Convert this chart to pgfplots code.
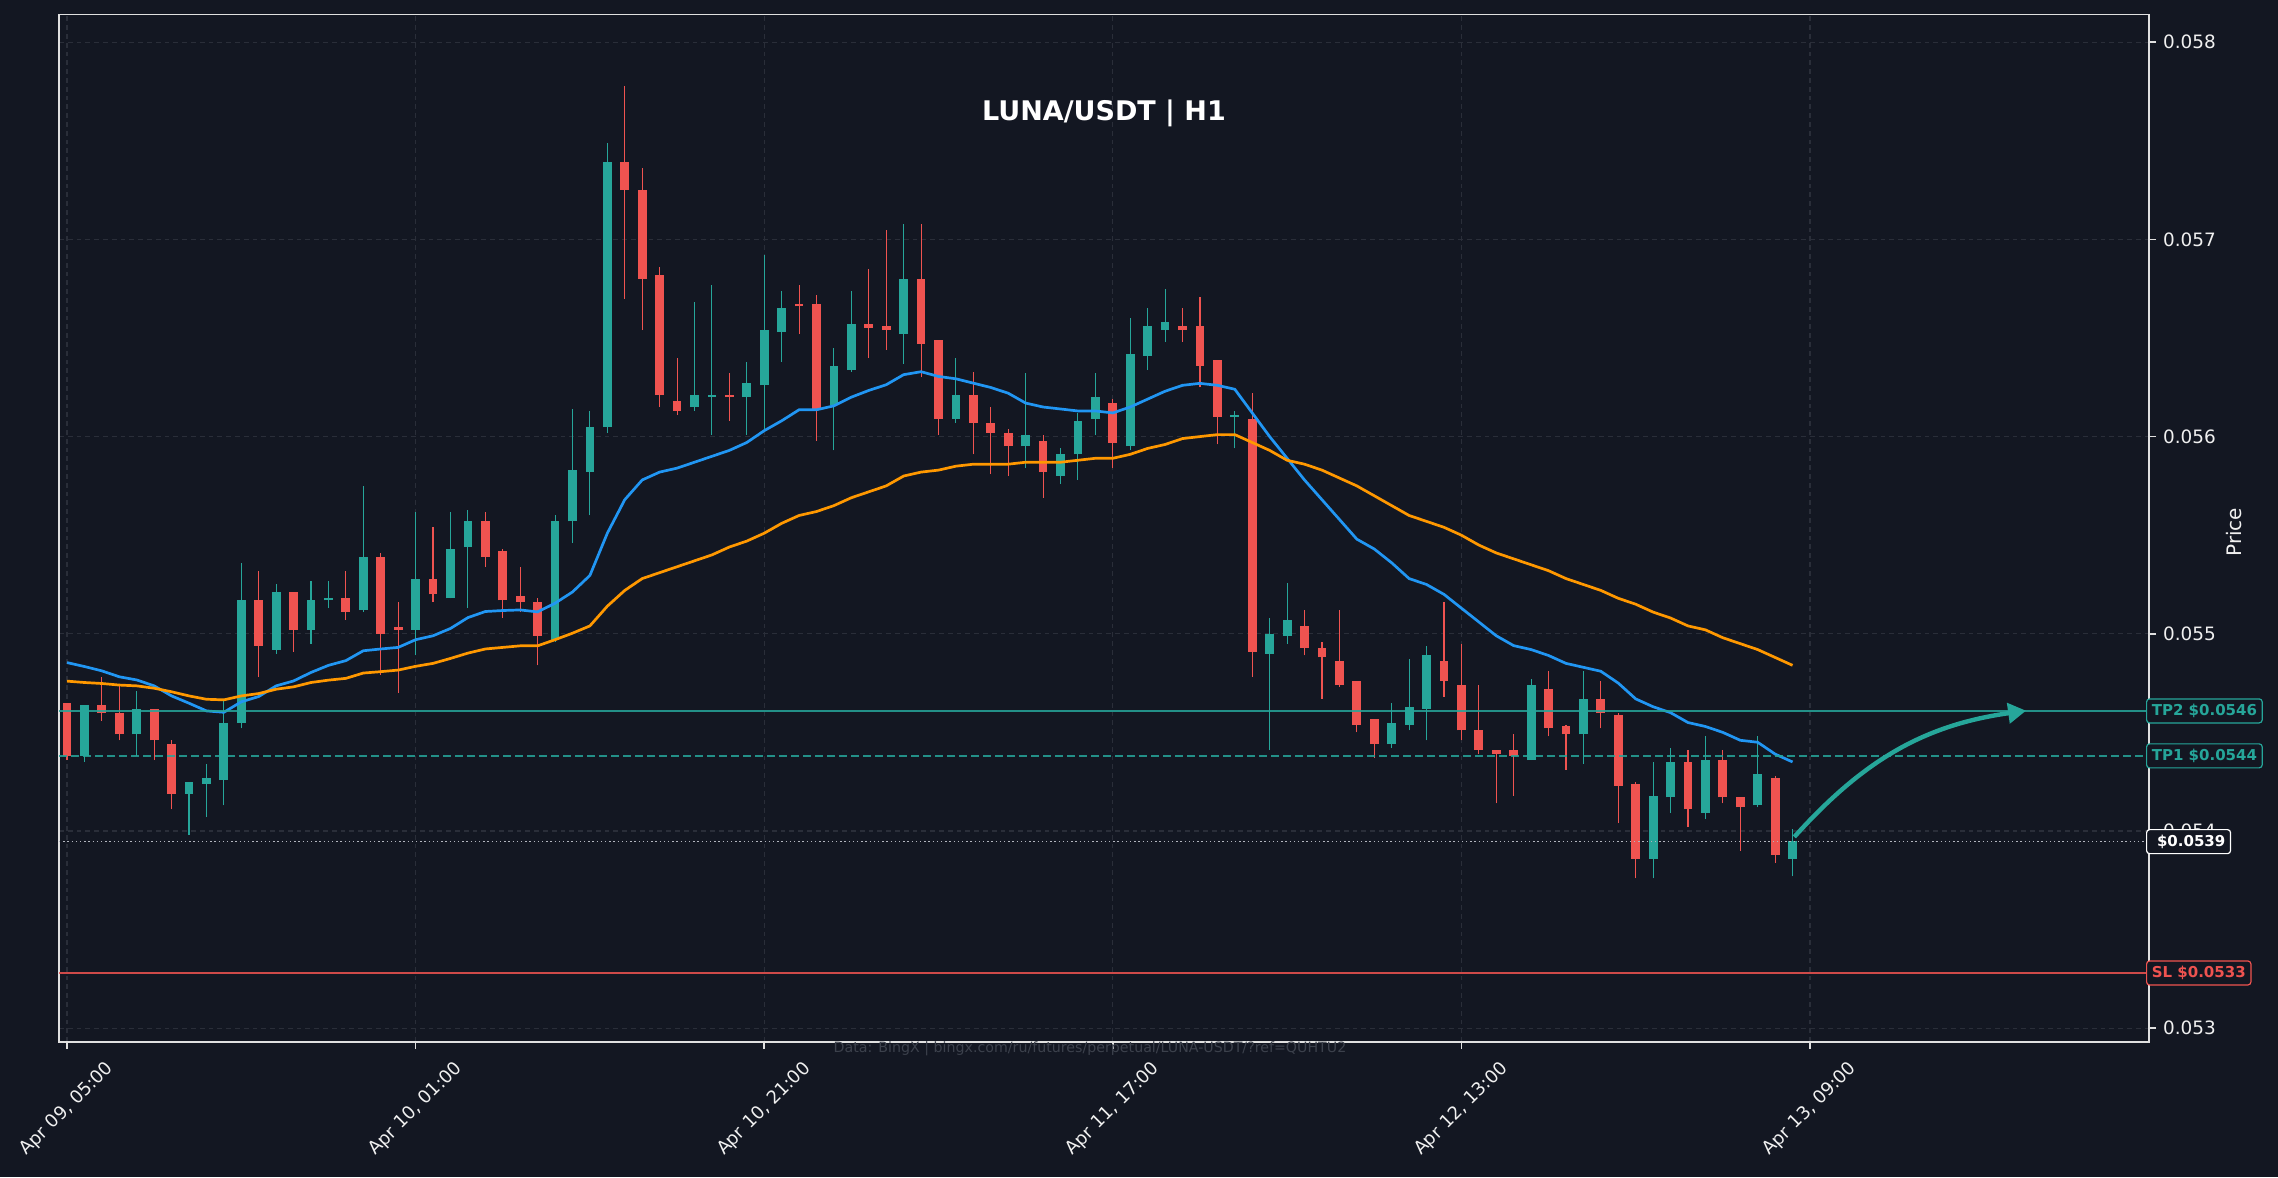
\documentclass[border=0pt]{standalone}
\usepackage{pgfplots}
\pgfplotsset{compat=1.18}
\usepackage{pgfplotstable}
\usepackage{fontspec}
\setmainfont{DejaVu Sans}
\usetikzlibrary{arrows.meta}
\definecolor{bg}{HTML}{131722}
\definecolor{gridc}{HTML}{2A2E39}
\definecolor{spine}{HTML}{E0E0E0}
\definecolor{txt}{HTML}{F0F0F0}
\definecolor{up}{HTML}{26A69A}
\definecolor{down}{HTML}{EF5350}
\definecolor{emafast}{HTML}{2196F3}
\definecolor{emaslow}{HTML}{FF9800}
\definecolor{wm}{HTML}{3C414C}
\definecolor{cur}{HTML}{B2B5BE}

\pgfplotstableread{
i O H L C
1 0.05438 0.05464 0.05435 0.05464
4 0.05449 0.05471 0.05438 0.05462
7 0.05419 0.05425 0.05398 0.05425
8 0.05424 0.05434 0.05407 0.05427
9 0.05426 0.05466 0.05413 0.05455
10 0.05455 0.05536 0.05452 0.05517
12 0.05492 0.05525 0.05490 0.05521
14 0.05502 0.05527 0.05495 0.05517
15 0.05517 0.05527 0.05513 0.05518
17 0.05512 0.05575 0.05511 0.05539
20 0.05502 0.05562 0.05489 0.05528
22 0.05518 0.05562 0.05518 0.05543
23 0.05544 0.05563 0.05513 0.05557
28 0.05497 0.05560 0.05496 0.05557
29 0.05557 0.05614 0.05546 0.05583
30 0.05582 0.05613 0.05560 0.05605
31 0.05605 0.05749 0.05602 0.05739
36 0.05615 0.05668 0.05613 0.05621
37 0.05620 0.05677 0.05601 0.05621
39 0.05620 0.05638 0.05601 0.05627
40 0.05626 0.05692 0.05603 0.05654
41 0.05653 0.05674 0.05638 0.05665
44 0.05616 0.05645 0.05593 0.05636
45 0.05634 0.05674 0.05633 0.05657
48 0.05652 0.05708 0.05637 0.05680
51 0.05609 0.05640 0.05607 0.05621
55 0.05595 0.05632 0.05584 0.05601
57 0.05580 0.05594 0.05576 0.05591
58 0.05591 0.05612 0.05578 0.05608
59 0.05609 0.05632 0.05601 0.05620
61 0.05595 0.05660 0.05593 0.05642
62 0.05641 0.05665 0.05634 0.05656
63 0.05654 0.05675 0.05648 0.05658
67 0.05610 0.05613 0.05594 0.05611
69 0.05490 0.05508 0.05441 0.05500
70 0.05499 0.05526 0.05495 0.05507
76 0.05444 0.05465 0.05442 0.05455
77 0.05454 0.05487 0.05451 0.05463
78 0.05462 0.05494 0.05446 0.05489
84 0.05436 0.05477 0.05436 0.05474
87 0.05449 0.05481 0.05434 0.05467
91 0.05386 0.05435 0.05376 0.05418
92 0.05417 0.05442 0.05409 0.05435
94 0.05409 0.05448 0.05406 0.05436
97 0.05413 0.05448 0.05412 0.05429
99 0.05386 0.05401 0.05377 0.05395
}\upc

\pgfplotstableread{
i O H L C
0 0.05465 0.05465 0.05436 0.05438
2 0.05464 0.05478 0.05456 0.05460
3 0.05460 0.05474 0.05446 0.05449
5 0.05462 0.05462 0.05436 0.05446
6 0.05444 0.05446 0.05411 0.05419
11 0.05517 0.05532 0.05478 0.05494
13 0.05521 0.05521 0.05491 0.05502
16 0.05518 0.05532 0.05507 0.05511
18 0.05539 0.05541 0.05479 0.05500
19 0.05503 0.05516 0.05470 0.05502
21 0.05528 0.05554 0.05516 0.05520
24 0.05557 0.05562 0.05534 0.05539
25 0.05542 0.05543 0.05508 0.05517
26 0.05519 0.05534 0.05511 0.05516
27 0.05516 0.05518 0.05484 0.05499
32 0.05739 0.05778 0.05670 0.05725
33 0.05725 0.05736 0.05654 0.05680
34 0.05682 0.05686 0.05615 0.05621
35 0.05618 0.05640 0.05611 0.05613
38 0.05621 0.05632 0.05608 0.05620
42 0.05667 0.05677 0.05652 0.05666
43 0.05667 0.05672 0.05598 0.05614
46 0.05657 0.05685 0.05640 0.05655
47 0.05656 0.05705 0.05644 0.05654
49 0.05680 0.05708 0.05630 0.05647
50 0.05649 0.05649 0.05601 0.05609
52 0.05621 0.05633 0.05591 0.05607
53 0.05607 0.05615 0.05581 0.05602
54 0.05602 0.05604 0.05580 0.05595
56 0.05598 0.05601 0.05569 0.05582
60 0.05617 0.05619 0.05584 0.05597
64 0.05656 0.05665 0.05648 0.05654
65 0.05656 0.05671 0.05625 0.05636
66 0.05639 0.05639 0.05596 0.05610
68 0.05609 0.05622 0.05478 0.05491
71 0.05504 0.05512 0.05489 0.05493
72 0.05493 0.05496 0.05467 0.05488
73 0.05486 0.05512 0.05473 0.05474
74 0.05476 0.05476 0.05450 0.05454
75 0.05457 0.05457 0.05437 0.05444
79 0.05486 0.05516 0.05468 0.05476
80 0.05474 0.05495 0.05446 0.05451
81 0.05451 0.05474 0.05439 0.05441
82 0.05441 0.05441 0.05414 0.05439
83 0.05441 0.05449 0.05418 0.05438
85 0.05472 0.05481 0.05448 0.05452
86 0.05453 0.05454 0.05431 0.05449
88 0.05467 0.05476 0.05452 0.05460
89 0.05459 0.05460 0.05404 0.05423
90 0.05424 0.05425 0.05376 0.05386
93 0.05435 0.05441 0.05402 0.05411
95 0.05436 0.05441 0.05414 0.05417
96 0.05417 0.05417 0.05390 0.05412
98 0.05427 0.05428 0.05384 0.05388
}\downc

\pgfplotstableread{
i fast slow
0 0.054854 0.054760
1 0.054834 0.054753
2 0.054812 0.054748
3 0.054782 0.054740
4 0.054766 0.054736
5 0.054736 0.054724
6 0.054685 0.054706
7 0.054648 0.054685
8 0.054609 0.054668
9 0.054602 0.054665
10 0.054655 0.054685
11 0.054682 0.054697
12 0.054736 0.054719
13 0.054761 0.054731
14 0.054804 0.054753
15 0.054840 0.054765
16 0.054864 0.054774
17 0.054914 0.054801
18 0.054923 0.054808
19 0.054931 0.054816
20 0.054970 0.054835
21 0.054990 0.054850
22 0.055027 0.054875
23 0.055082 0.054902
24 0.055113 0.054923
25 0.055118 0.054931
26 0.055121 0.054939
27 0.055111 0.054939
28 0.055155 0.054970
29 0.055212 0.055003
30 0.055296 0.055040
31 0.055510 0.055140
32 0.055680 0.055220
33 0.055780 0.055280
34 0.055820 0.055310
35 0.055840 0.055340
36 0.055870 0.055370
37 0.055900 0.055400
38 0.055930 0.055440
39 0.055970 0.055470
40 0.056030 0.055510
41 0.056080 0.055560
42 0.056136 0.055600
43 0.056136 0.055620
44 0.056156 0.055650
45 0.056200 0.055690
46 0.056234 0.055720
47 0.056263 0.055750
48 0.056314 0.055800
49 0.056329 0.055820
50 0.056305 0.055830
51 0.056293 0.055850
52 0.056271 0.055860
53 0.056249 0.055860
54 0.056220 0.055860
55 0.056170 0.055870
56 0.056150 0.055870
57 0.056140 0.055870
58 0.056130 0.055880
59 0.056130 0.055890
60 0.056120 0.055890
61 0.056150 0.055910
62 0.056190 0.055940
63 0.056230 0.055960
64 0.056260 0.055990
65 0.056270 0.056000
66 0.056260 0.056010
67 0.056240 0.056010
68 0.056120 0.055970
69 0.056000 0.055930
70 0.055890 0.055880
71 0.055780 0.055860
72 0.055680 0.055830
73 0.055580 0.055790
74 0.055480 0.055750
75 0.055430 0.055700
76 0.055360 0.055650
77 0.055280 0.055600
78 0.055250 0.055570
79 0.055200 0.055540
80 0.055130 0.055500
81 0.055060 0.055450
82 0.054990 0.055410
83 0.054940 0.055380
84 0.054920 0.055350
85 0.054890 0.055320
86 0.054850 0.055280
87 0.054830 0.055250
88 0.054810 0.055220
89 0.054750 0.055180
90 0.054670 0.055150
91 0.054630 0.055110
92 0.054600 0.055080
93 0.054550 0.055040
94 0.054530 0.055020
95 0.054500 0.054980
96 0.054460 0.054950
97 0.054450 0.054920
98 0.054390 0.054880
99 0.054350 0.054840
}\ema

\begin{document}
\begin{tikzpicture}
\fill[bg] (-29.5pt,-67.5pt) rectangle (1109.5pt,521pt);
\begin{axis}[
  name=ax,
  at={(0pt,0pt)}, anchor=south west,
  scale only axis, width=1045pt, height=513.7pt,
  xmin=-0.46, xmax=119.45, ymin=0.05293, ymax=0.05814,
  clip=false,
  axis line style={draw=spine, line width=0.9pt},
  xtick={0,20,40,60,80,100},
  xticklabels={{Apr 09, 05:00},{Apr 10, 01:00},{Apr 10, 21:00},{Apr 11, 17:00},{Apr 12, 13:00},{Apr 13, 09:00}},
  ytick={0.053,0.054,0.055,0.056,0.057,0.058},
  yticklabels={0.053,0.054,0.055,0.056,0.057,0.058},
  scaled y ticks=false,
  xtick pos=left, ytick pos=right, yticklabel pos=right,
  tick align=outside, major tick length=3.5pt,
  tick style={draw=spine, line width=0.8pt},
  xticklabel style={rotate=45, anchor=center, font=\fontsize{9}{11}\selectfont, text=txt},
  xticklabel shift=30pt,
  yticklabel style={font=\fontsize{9.2}{11}\selectfont, text=txt},
  grid=major, grid style={draw=gridc, line width=0.6pt, dash pattern=on 2.4pt off 2pt},
]
% wicks
\addplot[draw=none, mark=none, forget plot, error bars/.cd, y dir=plus, y explicit, error mark=none,
  error bar style={draw=up, line width=0.55pt}]
  table[x=i, y=L, y error plus expr={\thisrow{H}-\thisrow{L}}] {\upc};
\addplot[draw=none, mark=none, forget plot, error bars/.cd, y dir=plus, y explicit, error mark=none,
  error bar style={draw=down, line width=0.55pt}]
  table[x=i, y=L, y error plus expr={\thisrow{H}-\thisrow{L}}] {\downc};
% bodies
\addplot[draw=none, mark=none, forget plot, error bars/.cd, y dir=plus, y explicit, error mark=none,
  error bar style={draw=up, line width=4.4pt}]
  table[x=i, y expr={min(\thisrow{O},\thisrow{C})}, y error plus expr={max(abs(\thisrow{C}-\thisrow{O}),0.000012)}] {\upc};
\addplot[draw=none, mark=none, forget plot, error bars/.cd, y dir=plus, y explicit, error mark=none,
  error bar style={draw=down, line width=4.4pt}]
  table[x=i, y expr={min(\thisrow{O},\thisrow{C})}, y error plus expr={max(abs(\thisrow{C}-\thisrow{O}),0.000012)}] {\downc};
% EMAs
\addplot[emafast, line width=1.35pt, mark=none] table[x=i, y=fast] {\ema};
\addplot[emaslow, line width=1.35pt, mark=none] table[x=i, y=slow] {\ema};
% levels
\addplot[up, opacity=0.85, line width=0.75pt, mark=none] coordinates {(-0.46,0.054609) (119.45,0.054609)};
\addplot[up, opacity=0.85, line width=0.75pt, mark=none, dash pattern=on 4pt off 2pt] coordinates {(-0.46,0.054381) (119.45,0.054381)};
\addplot[cur, line width=0.6pt, mark=none, dash pattern=on 0.7pt off 1.4pt] coordinates {(-0.46,0.053946) (119.45,0.053946)};
\addplot[down, opacity=0.85, line width=0.75pt, mark=none] coordinates {(-0.46,0.05328) (119.45,0.05328)};
% arrow
\draw[up, line width=2.2pt, -{Triangle[length=9pt,width=10pt]}] (axis cs:99.1,0.05397) to[out=48,in=188] (axis cs:112.4,0.05461);
\coordinate (tp2) at (axis cs:119.45,0.054609);
\coordinate (tp1) at (axis cs:119.45,0.054381);
\coordinate (cp) at (axis cs:119.45,0.053946);
\coordinate (sl) at (axis cs:119.45,0.05328);
\end{axis}
\tikzset{lvl/.style={anchor=west, xshift=-1.5pt, fill=bg, rounded corners=1.5pt, line width=0.6pt,
  font=\bfseries\fontsize{7.5}{8.5}\selectfont, inner xsep=2.6pt, inner ysep=2.6pt}}
\node[lvl, draw=up, text=up] at (tp2) {TP2 \$0.0546};
\node[lvl, draw=up, text=up] at (tp1) {TP1 \$0.0544};
\node[lvl, draw=white, text=white] at (cp) {\ \$0.0539};
\node[lvl, draw=down, text=down] at (sl) {SL \$0.0533};
\node[rotate=90, text=txt, font=\fontsize{10}{12}\selectfont] at ([xshift=42.5pt,yshift=-2pt]ax.east) {Price};
\node[text=white, font=\bfseries\fontsize{13.5}{16}\selectfont] at ([yshift=-49.5pt]ax.north) {LUNA/USDT | H1};
\node[text=wm, font=\fontsize{7.1}{8}\selectfont] at ([xshift=-7pt,yshift=-3.2pt]ax.south) {Data: BingX | bingx.com/ru/futures/perpetual/LUNA-USDT/?ref=QUHTU2};
\pgfresetboundingbox
\path (-29.5pt,-67.5pt) rectangle (1109.5pt,521pt);
\end{tikzpicture}
\end{document}
